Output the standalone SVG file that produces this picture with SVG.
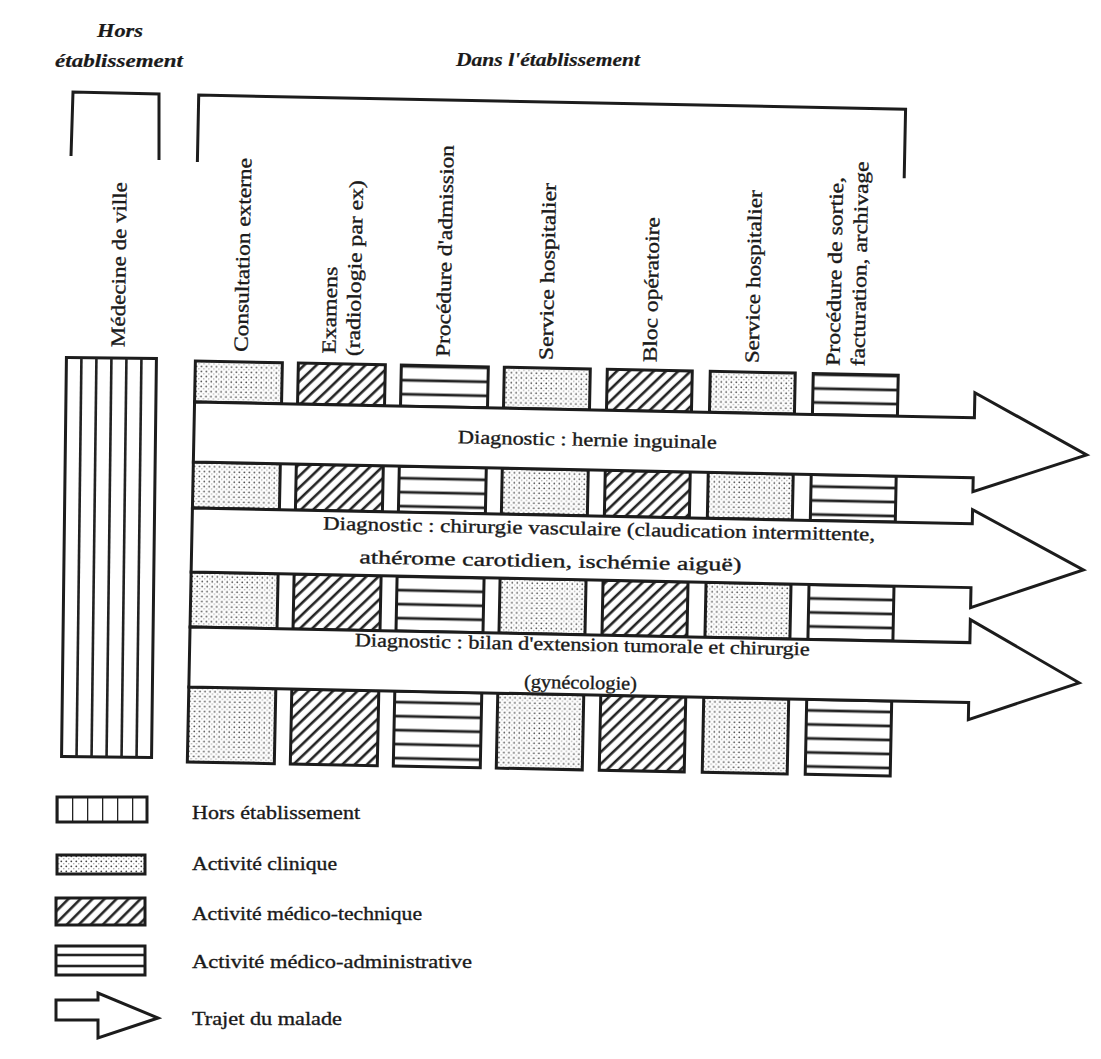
<svg xmlns="http://www.w3.org/2000/svg" width="1101" height="1059" viewBox="0 0 1101 1059">
<style>
  .ln{fill:none;stroke:#1c1c1c;stroke-width:3;stroke-linejoin:miter}
  .box{stroke:#1c1c1c;stroke-width:3}
  .arrow{fill:#fff;stroke:#1c1c1c;stroke-width:3;stroke-linejoin:miter}
  .t{font-family:"Liberation Serif","Times New Roman",serif;fill:#1a1a1a;stroke:#1a1a1a;stroke-width:0.35}
  .vl{font-size:20px}
  .dg{font-size:19px}
  .lg{font-size:19px}
  .hd{font-size:18px;font-weight:bold;font-style:italic;stroke-width:0.2}
</style>
<defs>
  <pattern id="dots" width="5" height="5" patternUnits="userSpaceOnUse">
    <rect width="5" height="5" fill="#fff"/>
    <circle cx="1.3" cy="1.3" r="0.9" fill="#444"/>
    <circle cx="3.8" cy="3.8" r="0.7" fill="#999"/>
  </pattern>
  <pattern id="hatch" width="8.5" height="8.5" patternUnits="userSpaceOnUse" patternTransform="rotate(45)">
    <rect width="8.5" height="8.5" fill="#fff"/>
    <line x1="4" y1="0" x2="4" y2="8.5" stroke="#222" stroke-width="2.6"/>
  </pattern>
  <pattern id="hlines" width="10" height="14" patternUnits="userSpaceOnUse" y="5">
    <rect width="10" height="14" fill="#fff"/>
    <line x1="0" y1="7" x2="10" y2="7" stroke="#222" stroke-width="2.8"/>
  </pattern>
  <pattern id="hlinesL" width="10" height="11" patternUnits="userSpaceOnUse" y="3">
    <rect width="10" height="11" fill="#fff"/>
    <line x1="0" y1="6" x2="10" y2="6" stroke="#222" stroke-width="2.6"/>
  </pattern>
  <pattern id="vlines" width="15" height="10" patternUnits="userSpaceOnUse" x="57">
    <rect width="15" height="10" fill="#fff"/>
    <line x1="0" y1="0" x2="0" y2="10" stroke="#222" stroke-width="2.6"/>
  </pattern>
</defs>
<rect width="1101" height="1059" fill="#fff"/>

<!-- headers -->
<g id="header-hors">
  <text class="t hd" x="97" y="37" textLength="46" lengthAdjust="spacingAndGlyphs">Hors</text>
  <text class="t hd" x="55" y="67" textLength="128" lengthAdjust="spacingAndGlyphs">établissement</text>
  <path class="ln" d="M71,156 L73,92 L159,94 L159,160"/>
</g>
<g id="header-dans">
  <text class="t hd" x="456" y="66" textLength="184" lengthAdjust="spacingAndGlyphs">Dans l'établissement</text>
</g>

<!-- Médecine de ville -->
<g id="medecine-de-ville" transform="rotate(0.7 110 557)">
  <rect x="64" y="358" width="90" height="399" fill="#fff" class="box"/>
  <g stroke="#222" stroke-width="2.6">
    <line x1="79" y1="358" x2="79" y2="757"/>
    <line x1="94" y1="358" x2="94" y2="757"/>
    <line x1="109" y1="358" x2="109" y2="757"/>
    <line x1="124" y1="358" x2="124" y2="757"/>
    <line x1="139" y1="358" x2="139" y2="757"/>
  </g>
  <text class="t vl" transform="translate(122 347) rotate(-90)" textLength="165" lengthAdjust="spacingAndGlyphs">Médecine de ville</text>
</g>

<g id="main" transform="rotate(1.15 195 380)">
  <g id="bracket-dans">
    <path class="ln" d="M193,162 V95 H900 V164"/>
  </g>

  <!-- column labels -->
  <g id="col-labels">
    <text class="t vl" transform="translate(247 351) rotate(-90)" textLength="194" lengthAdjust="spacingAndGlyphs">Consultation externe</text>
    <text class="t vl" transform="translate(335 351) rotate(-90)" textLength="87" lengthAdjust="spacingAndGlyphs">Examens</text>
    <text class="t vl" transform="translate(359 353) rotate(-90)" textLength="176" lengthAdjust="spacingAndGlyphs">(radiologie par ex)</text>
    <text class="t vl" transform="translate(449 352) rotate(-90)" textLength="212" lengthAdjust="spacingAndGlyphs">Procédure d'admission</text>
    <text class="t vl" transform="translate(552 353) rotate(-90)" textLength="177" lengthAdjust="spacingAndGlyphs">Service hospitalier</text>
    <text class="t vl" transform="translate(656 353) rotate(-90)" textLength="145" lengthAdjust="spacingAndGlyphs">Bloc opératoire</text>
    <text class="t vl" transform="translate(758 352) rotate(-90)" textLength="173" lengthAdjust="spacingAndGlyphs">Service hospitalier</text>
    <text class="t vl" transform="translate(839 353) rotate(-90)" textLength="189" lengthAdjust="spacingAndGlyphs">Procédure de sortie,</text>
    <text class="t vl" transform="translate(864 353) rotate(-90)" textLength="205" lengthAdjust="spacingAndGlyphs">facturation, archivage</text>
  </g>

  <!-- activity boxes: columns -->
  <g id="col-consultation">
    <rect class="box" x="195" y="361" width="87" height="41" fill="url(#dots)"/>
    <rect class="box" x="195" y="462" width="87" height="46" fill="url(#dots)"/>
    <rect class="box" x="195" y="572" width="87" height="55" fill="url(#dots)"/>
    <rect class="box" x="195" y="687" width="87" height="75" fill="url(#dots)"/>
  </g>
  <g id="col-examens">
    <rect class="box" x="298" y="361" width="87" height="41" fill="url(#hatch)"/>
    <rect class="box" x="298" y="462" width="87" height="46" fill="url(#hatch)"/>
    <rect class="box" x="298" y="572" width="87" height="55" fill="url(#hatch)"/>
    <rect class="box" x="298" y="687" width="87" height="75" fill="url(#hatch)"/>
  </g>
  <g id="col-admission">
    <rect class="box" x="401" y="361" width="87" height="41" fill="url(#hlines)"/>
    <rect class="box" x="401" y="462" width="87" height="46" fill="url(#hlines)"/>
    <rect class="box" x="401" y="572" width="87" height="55" fill="url(#hlines)"/>
    <rect class="box" x="401" y="687" width="87" height="75" fill="url(#hlines)"/>
  </g>
  <g id="col-service1">
    <rect class="box" x="504" y="361" width="86" height="41" fill="url(#dots)"/>
    <rect class="box" x="504" y="462" width="86" height="46" fill="url(#dots)"/>
    <rect class="box" x="504" y="572" width="86" height="55" fill="url(#dots)"/>
    <rect class="box" x="504" y="687" width="86" height="75" fill="url(#dots)"/>
  </g>
  <g id="col-bloc">
    <rect class="box" x="607" y="361" width="85" height="41" fill="url(#hatch)"/>
    <rect class="box" x="607" y="462" width="85" height="46" fill="url(#hatch)"/>
    <rect class="box" x="607" y="572" width="85" height="55" fill="url(#hatch)"/>
    <rect class="box" x="607" y="687" width="85" height="75" fill="url(#hatch)"/>
  </g>
  <g id="col-service2">
    <rect class="box" x="710" y="361" width="85" height="41" fill="url(#dots)"/>
    <rect class="box" x="710" y="462" width="85" height="46" fill="url(#dots)"/>
    <rect class="box" x="710" y="572" width="85" height="55" fill="url(#dots)"/>
    <rect class="box" x="710" y="687" width="85" height="75" fill="url(#dots)"/>
  </g>
  <g id="col-sortie">
    <rect class="box" x="813" y="361" width="85" height="41" fill="url(#hlines)"/>
    <rect class="box" x="813" y="462" width="85" height="46" fill="url(#hlines)"/>
    <rect class="box" x="813" y="572" width="85" height="55" fill="url(#hlines)"/>
    <rect class="box" x="813" y="687" width="85" height="75" fill="url(#hlines)"/>
  </g>

  <!-- patient paths -->
  <g id="connectors">
    <g id="trajet-hernie">
      <path class="arrow" d="M195,402 H975 V377 L1088,437 L975,476 V462 H195 Z"/>
      <text class="t dg" x="459" y="438" textLength="259" lengthAdjust="spacingAndGlyphs">Diagnostic : hernie inguinale</text>
    </g>
    <g id="trajet-vasculaire">
      <path class="arrow" d="M195,508 H975 V494 L1087,552 L975,592 V572 H195 Z"/>
      <text class="t dg" x="326" y="527" textLength="552" lengthAdjust="spacingAndGlyphs">Diagnostic : chirurgie vasculaire (claudication intermittente,</text>
      <text class="t dg" x="363" y="560" textLength="382" lengthAdjust="spacingAndGlyphs">athérome carotidien, ischémie aiguë)</text>
    </g>
    <g id="trajet-tumorale">
      <path class="arrow" d="M195,627 H975 V604 L1085,665 L975,704 V687 H195 Z"/>
      <text class="t dg" x="360" y="643" textLength="455" lengthAdjust="spacingAndGlyphs">Diagnostic : bilan d'extension tumorale et chirurgie</text>
      <text class="t dg" x="530" y="681" textLength="113" lengthAdjust="spacingAndGlyphs">(gynécologie)</text>
    </g>
  </g>
</g>

<!-- legend -->
<g id="legend">
  <g id="legend-hors">
    <rect class="box" x="57" y="797" width="90" height="25" fill="url(#vlines)"/>
    <text class="t lg" x="192" y="819" textLength="168" lengthAdjust="spacingAndGlyphs">Hors établissement</text>
  </g>
  <g id="legend-clinique">
    <rect class="box" x="57" y="855" width="88" height="19" fill="url(#dots)"/>
    <text class="t lg" x="192" y="870" textLength="145" lengthAdjust="spacingAndGlyphs">Activité clinique</text>
  </g>
  <g id="legend-technique">
    <rect class="box" x="56" y="898" width="89" height="27" fill="url(#hatch)"/>
    <text class="t lg" x="192" y="920" textLength="230" lengthAdjust="spacingAndGlyphs">Activité médico-technique</text>
  </g>
  <g id="legend-administrative">
    <rect class="box" x="56" y="946" width="89" height="29" fill="url(#hlinesL)"/>
    <text class="t lg" x="192" y="968" textLength="280" lengthAdjust="spacingAndGlyphs">Activité médico-administrative</text>
  </g>
  <g id="legend-trajet">
    <path class="arrow" stroke-width="2.5" d="M56,1000 H98 V993 L158,1018 L98,1038 V1020 H56 Z"/>
    <text class="t lg" x="192" y="1025" textLength="150" lengthAdjust="spacingAndGlyphs">Trajet du malade</text>
  </g>
</g>
</svg>
